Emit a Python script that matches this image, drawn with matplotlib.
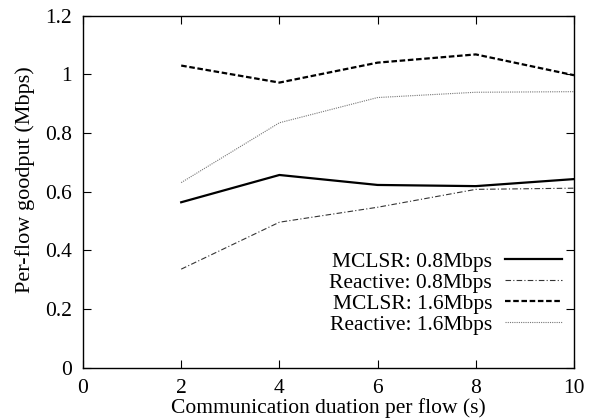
import matplotlib
matplotlib.use("Agg")
import matplotlib.pyplot as plt

durations = [2, 4, 6, 8, 10]
mclsr_08 = [0.564, 0.657, 0.623, 0.619, 0.643]
reactive_08 = [0.336, 0.496, 0.547, 0.608, 0.612]
mclsr_16 = [1.030, 0.972, 1.040, 1.068, 0.997]
reactive_16 = [0.631, 0.835, 0.921, 0.939, 0.941]

labels = ["MCLSR: 0.8Mbps", "Reactive: 0.8Mbps", "MCLSR: 1.6Mbps", "Reactive: 1.6Mbps"]
xticks = [0, 2, 4, 6, 8, 10]
yticks = [0, 0.2, 0.4, 0.6, 0.8, 1.0, 1.2]
yticklabels = ["0", "0.2", "0.4", "0.6", "0.8", "1", "1.2"]

plt.rcParams['font.family'] = ['Liberation Serif', 'DejaVu Serif']
fs = 15.5

fig = plt.figure(figsize=(5.95, 4.2), dpi=100)
ax = fig.add_axes([83/595, 1 - 367.7/420, (574 - 83)/595, (367.7 - 15.7)/420])

ax.plot(durations, mclsr_08, color='black', lw=1.6, ls='-', label=labels[0])
ax.plot(durations, reactive_08, color='#333333', lw=0.8, ls=(0, (5, 2, 1, 2)), label=labels[1])
ax.plot(durations, mclsr_16, color='black', lw=1.6, ls=(0, (2.5, 1.2)), label=labels[2])
ax.plot(durations, reactive_16, color='#777777', lw=0.8, ls=(0, (1, 1)), label=labels[3])

ax.set_xlim(0, 10)
ax.set_ylim(0, 1.2)
ax.set_xticks(xticks)
ax.set_xticklabels([str(x) for x in xticks], fontsize=fs)
ax.set_yticks(yticks)
ax.set_yticklabels(yticklabels, fontsize=fs)
ax.tick_params(direction='in', length=6, width=0.8, top=True, right=True, pad=8)
for s in ax.spines.values():
    s.set_linewidth(1.0)

ax.set_xlabel("Communication duation per flow (s)", fontsize=fs, labelpad=0)
ax.set_ylabel("Per-flow goodput (Mbps)", fontsize=16)
ax.yaxis.set_label_coords(-0.098, 0.533)

leg = ax.legend(loc='lower right', bbox_to_anchor=(0.9756, 0.093), frameon=False,
                markerfirst=False, fontsize=fs, handlelength=2.65, handletextpad=0.6,
                labelspacing=0.05, borderpad=0.0, borderaxespad=0.0)

fig.savefig("out.png", dpi=100)
